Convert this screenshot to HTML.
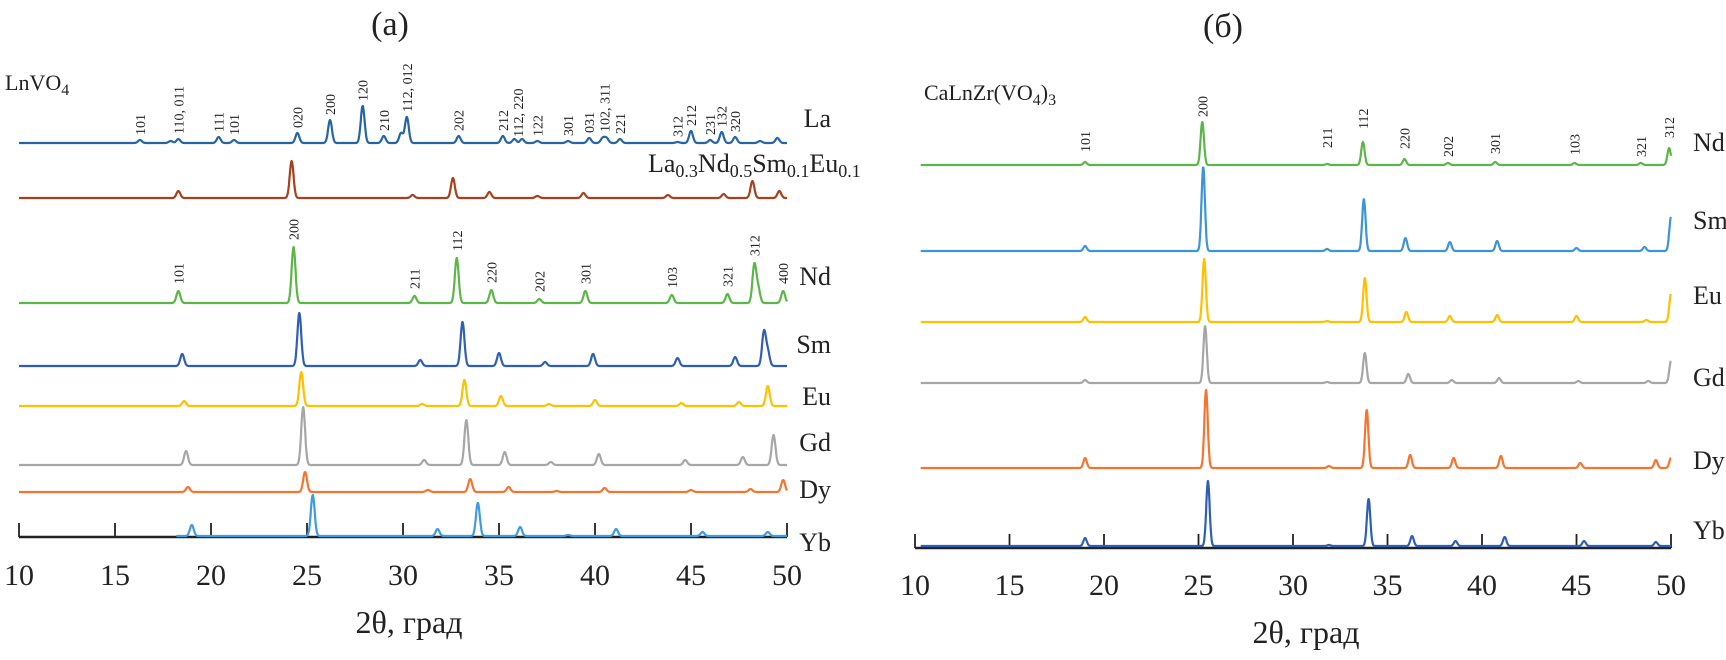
<!DOCTYPE html>
<html><head><meta charset="utf-8">
<style>
html,body{margin:0;padding:0;background:#fff;}
svg{display:block;font-family:"Liberation Serif",serif;}
</style></head>
<body>
<svg id="chart" width="1726" height="660" viewBox="0 0 1726 660" xmlns="http://www.w3.org/2000/svg">
<text x="390" y="35" font-size="34" text-anchor="middle" fill="#222">(a)</text>
<text x="1223" y="37" font-size="34" text-anchor="middle" fill="#222">(б)</text>
<text x="5" y="90" font-size="22" fill="#222">LnVO<tspan font-size="16" dy="5">4</tspan></text>
<text x="924" y="100" font-size="22" fill="#222">CaLnZr(VO<tspan font-size="16" dy="5">4</tspan><tspan dy="-5">)</tspan><tspan font-size="16" dy="5">3</tspan></text>
<text x="648" y="172" font-size="26" fill="#222">La<tspan font-size="18" dy="5">0.3</tspan><tspan dy="-5">Nd</tspan><tspan font-size="18" dy="5">0.5</tspan><tspan dy="-5">Sm</tspan><tspan font-size="18" dy="5">0.1</tspan><tspan dy="-5">Eu</tspan><tspan font-size="18" dy="5">0.1</tspan></text>
<g id="left"></g>
<g id="right"></g>
</svg>
<script>
// ---------- Panel (a) data ----------
const ticksA = [10,15,20,25,30,35,40,45,50];
const laPos = [16.3,17.9,18.3,20.4,21.2,24.5,26.2,27.9,29.0,29.9,30.2,32.9,35.2,35.8,36.2,37.0,38.6,39.7,40.4,40.6,41.3,44.3,45.0,46.0,46.6,47.3,48.6,49.5];
const laH   = [3,2,4,6,3,10,23,37,7,10,26,7,7,4,4,2,2,5,5,5,4,1,12,3,11,6,2,5];
const mixPos = [18.3,24.2,30.5,32.6,34.5,37.0,39.4,43.8,46.7,48.2,49.6];
const mixH   = [7,37,3,20,6,2,5,3,4,17,7];
const ndPos = [18.3,24.3,30.6,32.8,34.6,37.1,39.5,44.0,46.9,48.3,48.5,49.8];
const ndH   = [12,56,7,45,13,4,12,8,9,38,14,12];
const smPos = [18.5,24.6,30.9,33.1,35.0,37.4,39.9,44.3,47.3,48.8,49.0];
const smH   = [12,53,6,44,13,4,12,8,9,34,14];
const euPos = [18.6,24.7,31.0,33.2,35.1,37.6,40.0,44.5,47.5,49.0];
const euH   = [5,34,2,26,10,2,6,3,4,20];
const gdPos = [18.7,24.8,31.1,33.3,35.3,37.7,40.2,44.7,47.7,49.3];
const gdH   = [14,58,5,45,13,3,11,5,8,30];
const dyPos = [18.8,24.9,31.3,33.5,35.5,38.0,40.5,45.0,48.1,49.8];
const dyH   = [5,20,2,13,5,1,4,2,3,12];
const ybPos = [19.0,25.3,31.8,33.9,36.1,38.6,41.1,45.6,49.0];
const ybH   = [11,41,7,33,9,1,7,4,4];
const laLabels = ["101","110, 011","111","101","020","200","120","210","112, 012","202","212","112, 220","122","301","031","102, 311","221","312","212","231","132","320"];
const laLabelPos = [16.3,18.3,20.4,21.2,24.5,26.2,27.9,29.0,30.2,32.9,35.2,36.0,37.0,38.6,39.7,40.5,41.3,44.3,45.0,46.0,46.6,47.3];
const ndLabels = ["101","200","211","112","220","202","301","103","321","312","400"];
const ndLabelPos = [18.3,24.3,30.6,32.8,34.6,37.1,39.5,44.0,46.9,48.3,49.8];
// ---------- Panel (b) data ----------
const ticksB = [10,15,20,25,30,35,40,45,50];
const bNdPos = [19.0,25.2,31.8,33.7,35.9,38.2,40.7,44.9,48.4,49.9];
const bNdH   = [3,43,1,23,6,2,3,2,2,17];
const bSmPos = [19.0,25.25,31.8,33.75,35.95,38.3,40.8,45.0,48.6,50.0];
const bSmH   = [5,84,2,52,13,9,10,3,4,34];
const bEuPos = [19.0,25.3,31.8,33.8,36.0,38.3,40.8,45.0,48.7,50.0];
const bEuH   = [5,63,1,44,10,6,7,6,2,28];
const bGdPos = [19.0,25.35,31.8,33.8,36.1,38.4,40.9,45.1,48.8,50.0];
const bGdH   = [3,57,1,30,9,3,5,2,2,22];
const bDyPos = [19.0,25.4,31.9,33.9,36.2,38.5,41.0,45.2,49.2,50.0];
const bDyH   = [10,78,2,58,13,10,12,5,8,10];
const bYbPos = [19.0,25.5,31.9,34.0,36.3,38.6,41.2,45.4,49.2];
const bYbH   = [8,65,1,47,10,5,9,5,4];
const bLabels = ["101","200","211","112","220","202","301","103","321","312"];
const bLabelPos = [19.0,25.2,31.8,33.7,35.9,38.2,40.7,44.9,48.4,49.9];
const bLabelY = [152,117,148,129,149,157,154,155,157,138];

const NS="http://www.w3.org/2000/svg";
function xA(d){return 19+(d-10)*19.2;}
function xB(d){return 915+(d-10)*18.9;}
function profile(pos,h,d,sig){let y=0;for(let i=0;i<pos.length;i++){const t=(d-pos[i])/sig;y+=h[i]*Math.exp(-0.5*t*t);}return y;}
function trace(g,xf,pos,h,base,color,name,d0,d1,sig){
  let p="";for(let d=d0;d<=d1+1e-9;d+=0.02){p+=(p?"L":"M")+xf(d).toFixed(1)+","+(base-profile(pos,h,d,sig)).toFixed(1);}
  const el=document.createElementNS(NS,"path");
  el.setAttribute("d",p);el.setAttribute("fill","none");el.setAttribute("stroke",color);el.setAttribute("stroke-width","2.2");el.setAttribute("stroke-linejoin","round");
  
  
  g.appendChild(el);
}
function txt(g,x,y,s,size,anchor,name,rot){
  const t=document.createElementNS(NS,"text");
  t.setAttribute("x",x);t.setAttribute("y",y);t.setAttribute("font-size",size);t.setAttribute("fill","#222");
  if(anchor)t.setAttribute("text-anchor",anchor);
  if(rot)t.setAttribute("transform","rotate(-90 "+x+" "+y+")");
  t.textContent=s;
  
  
  g.appendChild(t);
}
function axis(g,xf,ticks,y,lblY,name){
  const l=document.createElementNS(NS,"line");
  l.setAttribute("x1",xf(10));l.setAttribute("x2",xf(50));l.setAttribute("y1",y);l.setAttribute("y2",y);l.setAttribute("stroke","#222");l.setAttribute("stroke-width","2.5");
  
  
  g.appendChild(l);
  ticks.forEach(v=>{
    const t=document.createElementNS(NS,"line");
    t.setAttribute("x1",xf(v));t.setAttribute("x2",xf(v));t.setAttribute("y1",y);t.setAttribute("y2",y-14);t.setAttribute("stroke","#222");t.setAttribute("stroke-width","1.8");
    
    
    g.appendChild(t);
    txt(g,xf(v),lblY,String(v),30,"middle","x-tick-label");
  });
}
const L=document.getElementById("left"), R=document.getElementById("right");
const sA=0.1;
trace(L,xA,laPos,laH,143,"#2565a6","trace-la",10,50,sA);
trace(L,xA,mixPos,mixH,198,"#a8401e","trace-la-nd-sm-eu",10,50,sA);
trace(L,xA,ndPos,ndH,303,"#5bb648","trace-nd",10,50,sA);
trace(L,xA,smPos,smH,366,"#2f5fb5","trace-sm",10,50,sA);
trace(L,xA,euPos,euH,406,"#ffc000","trace-eu",10,50,sA);
trace(L,xA,gdPos,gdH,465,"#a6a6a6","trace-gd",10,50,sA);
trace(L,xA,dyPos,dyH,492,"#f47430","trace-dy",10,50,sA);
axis(L,xA,ticksA,537,585,"panel-a");
trace(L,xA,ybPos,ybH,536,"#3d9be0","trace-yb",18.2,50,sA);
txt(L,409,633,"2θ, град",32,"middle","x-axis-title-a");
laLabels.forEach((s,i)=>{const d=laLabelPos[i];const top=143-profile(laPos,laH,d,sA);txt(L,xA(d)+5,top-5,s,14,"start","peak-label-la",true);});
ndLabels.forEach((s,i)=>{const d=ndLabelPos[i];const top=303-profile(ndPos,ndH,d,sA);txt(L,xA(d)+5,top-7,s,14,"start","peak-label-nd",true);});
[["La",118],["Nd",276],["Sm",344],["Eu",396],["Gd",442],["Dy",489],["Yb",542]].forEach(a=>txt(L,831,a[1]+9,a[0],26,"end","series-label-"+a[0].toLowerCase()));

const sB=0.09;
trace(R,xB,bNdPos,bNdH,165,"#5bb648","trace-b-nd",10.3,50,sB);
trace(R,xB,bSmPos,bSmH,251,"#3d94d6","trace-b-sm",10.3,50,sB);
trace(R,xB,bEuPos,bEuH,322,"#ffc000","trace-b-eu",10.3,50,sB);
trace(R,xB,bGdPos,bGdH,383,"#a6a6a6","trace-b-gd",10.3,50,sB);
trace(R,xB,bDyPos,bDyH,468,"#f47430","trace-b-dy",10.3,50,sB);
axis(R,xB,ticksB,548,595,"panel-b");
trace(R,xB,bYbPos,bYbH,546,"#2e5fb5","trace-b-yb",10.3,50,sB);
txt(R,1306,643,"2θ, град",32,"middle","x-axis-title-b");
bLabels.forEach((s,i)=>txt(R,xB(bLabelPos[i])+5,bLabelY[i],s,14,"start","peak-label-b",true));
[["Nd",142],["Sm",220],["Eu",295],["Gd",377],["Dy",460],["Yb",530]].forEach(a=>txt(R,1693,a[1]+9,a[0],26,"start","series-label-b-"+a[0].toLowerCase()));
</script>
</body></html>
